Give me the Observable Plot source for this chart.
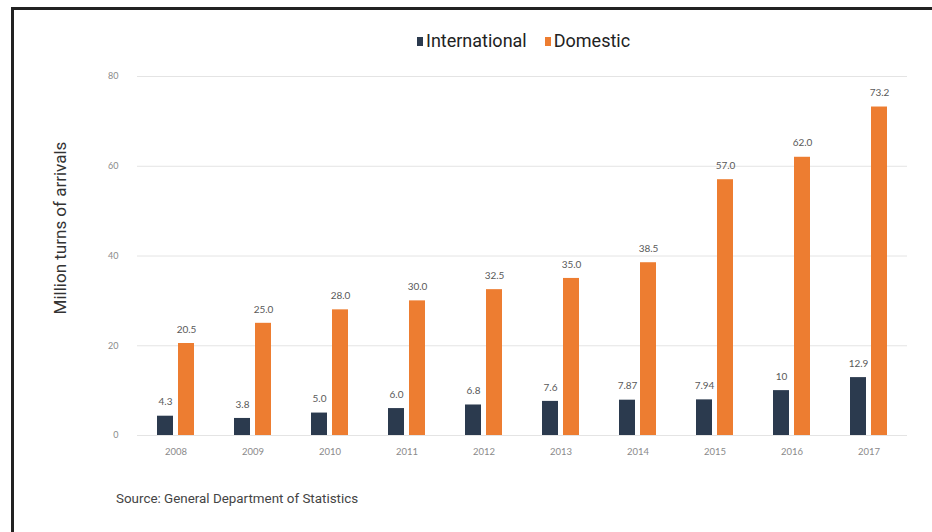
<!DOCTYPE html>
<html>
<head>
<meta charset="utf-8">
<script src="https://cdn.jsdelivr.net/npm/d3@7"></script>
<script src="https://cdn.jsdelivr.net/npm/@observablehq/plot@0.6"></script>
<style>
  html, body { margin: 0; padding: 0; background: #fff; }
  #wrap { position: relative; width: 932px; height: 532px; overflow: hidden; background: #fff; }
  #frame { position: absolute; left: 11px; top: 7px; right: -10px; bottom: -10px; border-left: 3px solid #222; border-top: 3px solid #222; }
  #legend { position: absolute; top: 30px; left: 408px; white-space: nowrap; font-family: Roboto, sans-serif; font-size: 18px; color: #222; }
  #legend span.sw { display: inline-block; width: 6px; height: 9px; margin-right: 3px; vertical-align: 1px; }
  #legend span.item { margin: 0 9px; }
  #ytitle { position: absolute; left: 60px; top: 228px; transform: translate(-50%, -50%) rotate(-90deg); white-space: nowrap; font-family: Roboto, sans-serif; font-size: 17px; color: #333; }
  #caption { position: absolute; left: 116px; top: 491px; font-family: Roboto, sans-serif; font-size: 13.4px; color: #444; }
  #chart { position: absolute; left: 0; top: 0; }
</style>
</head>
<body>
<div id="wrap">
  <div id="frame"></div>
  <div id="chart"></div>
  <div id="legend"></div>
  <div id="ytitle">Million turns of arrivals</div>
  <div id="caption">Source: General Department of Statistics</div>
</div>
<script>
const years = ["2008","2009","2010","2011","2012","2013","2014","2015","2016","2017"];
const seriesNames = ["International", "Domestic"];
const international = [4.3, 3.8, 5.0, 6.0, 6.8, 7.6, 7.87, 7.94, 10, 12.9];
const domestic = [20.5, 25.0, 28.0, 30.0, 32.5, 35.0, 38.5, 57.0, 62.0, 73.2];
const internationalLabels = ["4.3","3.8","5.0","6.0","6.8","7.6","7.87","7.94","10","12.9"];
const domesticLabels = ["20.5","25.0","28.0","30.0","32.5","35.0","38.5","57.0","62.0","73.2"];
const yTicks = [0, 20, 40, 60, 80];
const colors = ["#2b3a4e", "#ed7d31"];

const rows = [];
years.forEach((yr, i) => {
  rows.push({year: yr, series: seriesNames[0], value: international[i], label: internationalLabels[i]});
  rows.push({year: yr, series: seriesNames[1], value: domestic[i], label: domesticLabels[i]});
});

const chart = Plot.plot({
  width: 932,
  height: 532,
  marginTop: 76,
  marginBottom: 97,
  marginLeft: 136,
  marginRight: 24,
  style: {fontFamily: "Lato, 'Open Sans', sans-serif", background: "transparent"},
  fx: {domain: years, padding: 0, label: null, axis: null},
  x: {domain: seriesNames, paddingInner: 0.23, paddingOuter: 0.87, axis: null},
  y: {domain: [0, 80], ticks: yTicks, label: null, axis: null},
  color: {domain: seriesNames, range: colors},
  marks: [
    Plot.ruleY(yTicks, {stroke: "#e4e4e4", strokeWidth: 1}),
    Plot.axisY({ticks: yTicks, tickSize: 0, tickPadding: 19, fontSize: 9, fill: "#8a8a8a", label: null}),
    Plot.axisFx({anchor: "bottom", tickSize: 0, tickPadding: 13, fontSize: 9.5, fill: "#8a8a8a", label: null}),
    Plot.barY(rows, {fx: "year", x: "series", y: "value", fill: "series"}),
    Plot.text(rows, {fx: "year", x: "series", y: "value", text: "label", dy: -14, fontSize: 10, fill: "#595959"})
  ]
});
document.getElementById("chart").appendChild(chart);

const legend = document.getElementById("legend");
seriesNames.forEach((s, i) => {
  const item = document.createElement("span");
  item.className = "item";
  const sw = document.createElement("span");
  sw.className = "sw";
  sw.style.background = colors[i];
  item.appendChild(sw);
  item.appendChild(document.createTextNode(s));
  legend.appendChild(item);
});
</script>
</body>
</html>
